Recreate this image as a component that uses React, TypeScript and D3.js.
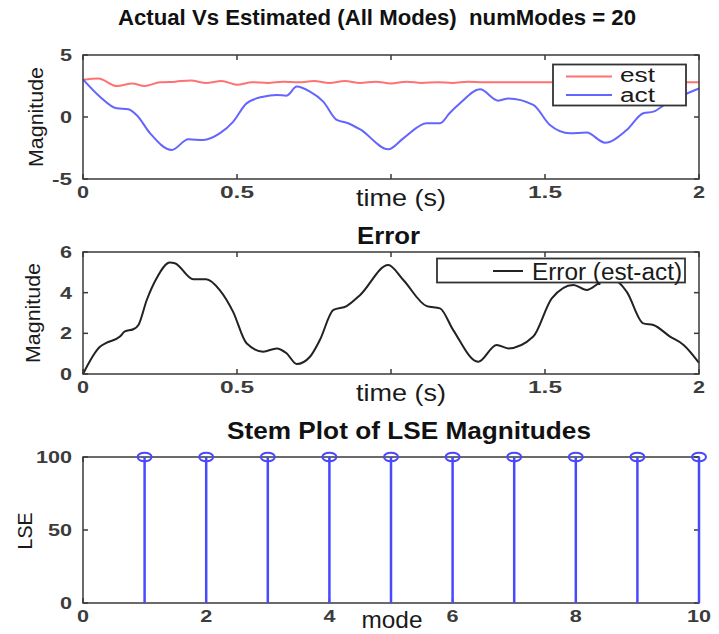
import React from 'react';
import * as d3 from 'd3';

// ---- data ----
const timeTicks = [0, 0.5, 1, 1.5, 2];
// the label at t = 1 sits under the "time (s)" axis label, so it is left blank
const timeTickLabels = ['0', '0.5', '', '1.5', '2'];
const magTicks = [-5, 0, 5];
const errTicks = [0, 2, 4, 6];
const modeTicks = [0, 2, 4, 6, 8, 10];
const lseTicks = [0, 50, 100];

const estTime = [0, 0.05, 0.11, 0.16, 0.2, 0.25, 0.3, 0.35, 0.4, 0.45, 0.5, 0.55, 0.6, 0.65, 0.7, 0.75, 0.8, 0.85, 0.9, 0.95, 1.0, 1.05, 1.1, 1.15, 1.2, 1.25, 1.3, 2.0];
const estMag = [3.0, 3.1, 2.5, 2.7, 2.5, 2.8, 2.85, 2.95, 2.75, 2.9, 2.6, 2.8, 2.75, 2.85, 2.8, 2.9, 2.75, 2.9, 2.75, 2.85, 2.7, 2.85, 2.75, 2.8, 2.75, 2.85, 2.8, 2.8];

const actTime = [0, 0.055, 0.109, 0.147, 0.174, 0.218, 0.288, 0.342, 0.39, 0.445, 0.488, 0.531, 0.585, 0.629, 0.661, 0.694, 0.737, 0.78, 0.824, 0.856, 0.9, 0.991, 1.04, 1.116, 1.159, 1.19, 1.224, 1.289, 1.348, 1.381, 1.462, 1.516, 1.581, 1.635, 1.695, 1.765, 1.819, 1.852, 1.895, 2.0];
const actMag = [3.04, 1.64, 0.7, 0.62, 0.16, -1.32, -2.66, -1.8, -1.85, -1.3, -0.37, 1.1, 1.64, 1.77, 1.72, 2.45, 2.04, 1.24, -0.24, -0.46, -1.0, -2.6, -1.72, -0.51, -0.51, 0.3, 1.1, 2.23, 1.32, 1.5, 0.97, -0.65, -1.32, -1.26, -2.07, -1.05, 0.3, 0.43, 1.1, 2.3];

const errTime = [0, 0.055, 0.077, 0.12, 0.136, 0.163, 0.18, 0.207, 0.239, 0.282, 0.298, 0.358, 0.4, 0.444, 0.487, 0.531, 0.585, 0.629, 0.661, 0.694, 0.737, 0.769, 0.813, 0.856, 0.9, 0.991, 1.04, 1.116, 1.159, 1.202, 1.283, 1.343, 1.381, 1.462, 1.522, 1.592, 1.635, 1.69, 1.733, 1.765, 1.819, 1.852, 1.906, 1.95, 2.0];
const errMag = [0, 1.34, 1.54, 1.84, 2.1, 2.2, 2.41, 3.64, 4.71, 5.48, 5.45, 4.66, 4.66, 4.13, 3.07, 1.51, 1.1, 1.26, 1.02, 0.49, 0.85, 1.67, 3.15, 3.34, 3.89, 5.36, 4.62, 3.34, 3.23, 2.16, 0.6, 1.43, 1.26, 1.84, 3.72, 4.38, 4.13, 4.55, 4.54, 4.05, 2.49, 2.41, 1.84, 1.43, 0.55];

const modes = [1, 2, 3, 4, 5, 6, 7, 8, 9, 10];
const lseMag = [100, 100, 100, 100, 100, 100, 100, 100, 100, 100];

// ---- layout & style ----
const W = 719;
const H = 634;
const LEFT = 83;
const RIGHT = 699;
const FONT = "'Liberation Sans', Arial, Helvetica, sans-serif";
const AXIS = '#3a3a3a';
const TICK_TXT = '#3c3c3c';
const EST_COLOR = '#ff7272';
const ACT_COLOR = '#6464ff';
const STEM_COLOR = '#4848ff';

const charW = (s: string) =>
  s.split('').reduce((a, c) => a + (c === '.' ? 10 : c === '-' ? 8 : 12), 0);

type Scale = d3.ScaleLinear<number, number>;

function TickText({ x, y, s, anchor }: { x: number; y: number; s: string; anchor: 'start' | 'middle' | 'end' }) {
  if (!s) return null;
  return (
    <text
      x={x}
      y={y}
      textAnchor={anchor}
      fontFamily={FONT}
      fontWeight="bold"
      fontSize={16}
      fill={TICK_TXT}
      textLength={charW(s)}
      lengthAdjust="spacingAndGlyphs"
    >
      {s}
    </text>
  );
}

function Frame({
  x, y, xt, yt, xl, yl,
}: {
  x: Scale; y: Scale; xt: number[]; yt: number[]; xl: string[]; yl: string[];
}) {
  const [x0, x1] = x.range();
  const [yb, ytop] = y.range();
  const tl = 5;
  return (
    <g>
      <rect x={x0} y={ytop} width={x1 - x0} height={yb - ytop} fill="none" stroke={AXIS} strokeWidth={1.5} />
      {xt.map((v) => (
        <g key={'xt' + v}>
          <line x1={x(v)} x2={x(v)} y1={yb} y2={yb - tl} stroke={AXIS} strokeWidth={1.5} />
          <line x1={x(v)} x2={x(v)} y1={ytop} y2={ytop + tl} stroke={AXIS} strokeWidth={1.5} />
        </g>
      ))}
      {yt.map((v) => (
        <g key={'yt' + v}>
          <line x1={x0} x2={x0 + tl} y1={y(v)} y2={y(v)} stroke={AXIS} strokeWidth={1.5} />
          <line x1={x1} x2={x1 - tl} y1={y(v)} y2={y(v)} stroke={AXIS} strokeWidth={1.5} />
        </g>
      ))}
      {xt.map((v, i) => (
        <TickText key={'xl' + v} x={x(v)} y={yb + 19} s={xl[i]} anchor="middle" />
      ))}
      {yt.map((v, i) => (
        <TickText key={'yl' + v} x={x0 - 11} y={y(v) + 6} s={yl[i]} anchor="end" />
      ))}
    </g>
  );
}

function AxisLabel({ x, y, s, len, rotate }: { x: number; y: number; s: string; len: number; rotate?: boolean }) {
  return (
    <text
      x={x}
      y={y}
      transform={rotate ? `rotate(-90 ${x} ${y})` : undefined}
      textAnchor="middle"
      fontFamily={FONT}
      fontSize={rotate ? 21 : 24}
      fill="#1a1a1a"
      textLength={len}
      lengthAdjust="spacingAndGlyphs"
    >
      {s}
    </text>
  );
}

function Title({ x, y, s, len, size }: { x: number; y: number; s: string; len: number; size: number }) {
  return (
    <text
      x={x}
      y={y}
      fontFamily={FONT}
      fontWeight="bold"
      fontSize={size}
      fill="#111"
      textLength={len}
      lengthAdjust="spacingAndGlyphs"
      style={{ whiteSpace: 'pre' }}
    >
      {s}
    </text>
  );
}

export default function App() {
  // panel 1: actual vs estimated
  const x1 = d3.scaleLinear().domain([0, 2]).range([LEFT, RIGHT]);
  const y1 = d3.scaleLinear().domain([-5, 5]).range([179, 55]);
  const line1 = d3
    .line<[number, number]>()
    .x((d) => x1(d[0]))
    .y((d) => y1(d[1]))
    .curve(d3.curveMonotoneX);
  const estPath = line1(estTime.map((t, i) => [t, estMag[i]]) as [number, number][]) || '';
  const actPath = line1(actTime.map((t, i) => [t, actMag[i]]) as [number, number][]) || '';

  // panel 2: error
  const y2 = d3.scaleLinear().domain([0, 6]).range([374, 252]);
  const line2 = d3
    .line<[number, number]>()
    .x((d) => x1(d[0]))
    .y((d) => y2(d[1]))
    .curve(d3.curveMonotoneX);
  const errPath = line2(errTime.map((t, i) => [t, errMag[i]]) as [number, number][]) || '';

  // panel 3: stem plot
  const x3 = d3.scaleLinear().domain([0, 10]).range([LEFT, RIGHT]);
  const y3 = d3.scaleLinear().domain([0, 100]).range([603, 457]);

  return (
    <svg width={W} height={H} style={{ position: 'absolute', left: 0, top: 0, background: '#fff' }}>
      <rect x={0} y={0} width={W} height={H} fill="#fff" />

      <Title x={118} y={25} s="Actual Vs Estimated (All Modes)  numModes = 20" len={518} size={22} />

      {/* panel 1 */}
      <path d={estPath} fill="none" stroke={EST_COLOR} strokeWidth={2} />
      <path d={actPath} fill="none" stroke={ACT_COLOR} strokeWidth={2} />
      <Frame
        x={x1}
        y={y1}
        xt={timeTicks}
        yt={magTicks}
        xl={timeTickLabels}
        yl={magTicks.map(String)}
      />
      <g>
        <rect x={553} y={64.5} width={133} height={41} fill="#fff" stroke="#333" strokeWidth={1.8} />
        <line x1={566} x2={612} y1={76.5} y2={76.5} stroke={EST_COLOR} strokeWidth={2} />
        <line x1={566} x2={612} y1={95} y2={95} stroke={ACT_COLOR} strokeWidth={2} />
        <text x={620} y={82} fontFamily={FONT} fontSize={20} fill="#1a1a1a" textLength={35} lengthAdjust="spacingAndGlyphs">est</text>
        <text x={620} y={102} fontFamily={FONT} fontSize={20} fill="#1a1a1a" textLength={35} lengthAdjust="spacingAndGlyphs">act</text>
      </g>
      <AxisLabel x={401} y={206} s="time (s)" len={90} />
      <AxisLabel x={43} y={117} s="Magnitude" len={100} rotate />

      {/* panel 2 */}
      <Title x={357} y={244} s="Error" len={63} size={24} />
      <path d={errPath} fill="none" stroke="#222" strokeWidth={2} />
      <Frame
        x={x1}
        y={y2}
        xt={timeTicks}
        yt={errTicks}
        xl={timeTickLabels}
        yl={errTicks.map(String)}
      />
      <g>
        <rect x={437} y={258.5} width={248} height={24} fill="#fff" stroke="#333" strokeWidth={1.8} />
        <line x1={493} x2={523} y1={271} y2={271} stroke="#222" strokeWidth={2} />
        <text x={532} y={280} fontFamily={FONT} fontSize={23} fill="#1a1a1a" textLength={150} lengthAdjust="spacingAndGlyphs">Error (est-act)</text>
      </g>
      <AxisLabel x={401} y={401} s="time (s)" len={90} />
      <AxisLabel x={40} y={313} s="Magnitude" len={100} rotate />

      {/* panel 3 */}
      <Title x={227} y={439} s="Stem Plot of LSE Magnitudes" len={364} size={24} />
      <Frame
        x={x3}
        y={y3}
        xt={modeTicks}
        yt={lseTicks}
        xl={modeTicks.map(String)}
        yl={lseTicks.map(String)}
      />
      {modes.map((m, i) => (
        <g key={'stem' + m}>
          <line x1={x3(m)} x2={x3(m)} y1={y3(0)} y2={y3(lseMag[i])} stroke={STEM_COLOR} strokeWidth={2.5} />
          <ellipse cx={x3(m)} cy={y3(lseMag[i])} rx={7} ry={4.3} fill="none" stroke={STEM_COLOR} strokeWidth={2} />
        </g>
      ))}
      <AxisLabel x={392} y={628} s="mode" len={61} />
      <AxisLabel x={32} y={531} s="LSE" len={37} rotate />
    </svg>
  );
}
